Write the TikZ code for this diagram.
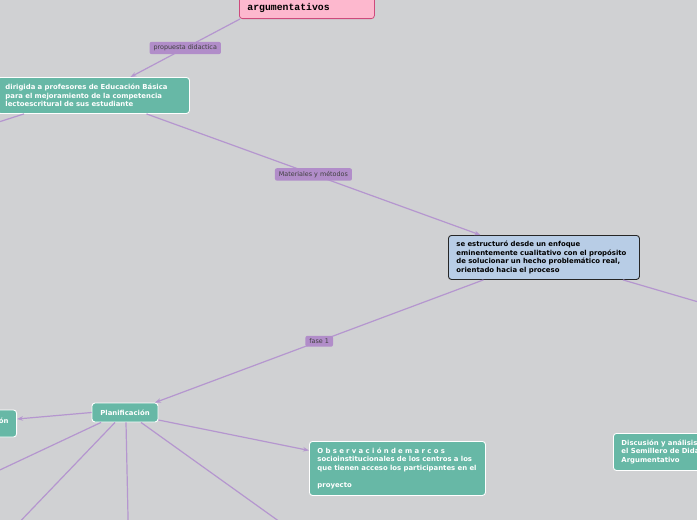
\documentclass[tikz,border=0pt]{standalone}
\usepackage{fontspec}
\setmainfont{DejaVu Sans}
\newfontfamily\codefont{Liberation Mono}
\usetikzlibrary{arrows.meta}
\definecolor{fondo}{HTML}{D0D1D3}
\definecolor{verde}{HTML}{67B8A6}
\definecolor{azul}{HTML}{B8CDE6}
\definecolor{rosa}{HTML}{FDB8CE}
\definecolor{rosaborde}{HTML}{CE4A7C}
\definecolor{lila}{HTML}{B596CF}
\definecolor{lilaetiq}{HTML}{B18DC9}

\begin{document}
\begin{tikzpicture}[x=1pt, y=-1pt, >={Stealth[length=6pt,width=4.5pt]},
  idea/.style={draw=white, line width=0.9pt, fill=verde, rounded corners=3pt,
    text=white, font=\fontsize{6.9}{8.6}\selectfont\bfseries, align=left,
    inner xsep=8pt},
  enlace/.style={draw=lila, line width=1.2pt},
  etiq/.style={fill=lilaetiq, rounded corners=2pt, text=black!75,
    font=\fontsize{6.4}{7}\selectfont, inner xsep=4pt, inner ysep=3pt}]
  \fill[fondo] (0,0) rectangle (697,520);
  \useasboundingbox (0,0) rectangle (697,520);
  \clip (0,0) rectangle (697,520);

  % nodos
  \node[draw=rosaborde, fill=rosa, rounded corners=3pt, line width=0.8pt,
        anchor=south west, text width=119pt, inner xsep=8pt, inner ysep=4pt,
        text height=30pt, text depth=4pt, align=left,
        font=\codefont\fontsize{9.8}{11}\selectfont\bfseries]
        (argu) at (239,19) {argumentativos};
  \node[idea, anchor=north west, text width=176pt, minimum height=36pt]
        (dirig) at (-3,77)
        {dirigida a profesores de Educación Básica\\
         para el mejoramiento de la competencia\\
         lectoescritural de sus estudiante};
  \node[draw=black!85, line width=0.9pt, fill=azul, rounded corners=3pt,
        font=\fontsize{6.9}{8.6}\selectfont\bfseries, align=left,
        anchor=north west, text width=175pt, inner xsep=8pt, minimum height=44pt]
        (enfoque) at (448,235)
        {se estructuró desde un enfoque\\
         eminentemente cualitativo con el propósito\\
         de solucionar un hecho problemático real,\\
         orientado hacia el proceso};
  \node[idea, minimum width=66pt, minimum height=19pt, inner xsep=4pt]
        (plan) at (125,412.5) {Planificación};
  \node[idea, anchor=east, text width=30pt, align=right, minimum height=27pt,
        text depth=6pt] (izq) at (17,423.5) {ón};
  \node[idea, anchor=north west, text width=160pt, minimum height=54pt]
        (obs) at (309,441)
        {O b s e r v a c i ó n d e m a r c o s\\
         socioinstitucionales de los centros a los\\
         que tienen acceso los participantes en el\\[8.6pt]
         proyecto};
  \node[idea, anchor=north west, text width=120pt, minimum height=37pt]
        (disc) at (613,433)
        {Discusión y análisis\\
         el Semillero de Dida\\
         Argumentativo};

  % conectores
  \draw[enlace, ->] ([xshift=1pt]argu.south west) -- ([xshift=37pt]dirig.north)
    node[etiq, midway] (e1) {propuesta didactica};
  \draw[enlace, ->] ([xshift=53pt]dirig.south) -- ([xshift=-63.5pt]enfoque.north)
    node[etiq, midway] (e2) {Materiales y métodos};
  \draw[enlace, ->] ([xshift=-60.5pt]enfoque.south) -- ([xshift=30pt]plan.north)
    node[etiq, midway] (e3) {fase 1};
  \coordinate (fueraA) at (-20,128);
  \coordinate (fueraB) at (760,320);
  \draw[enlace] ([xshift=27pt]dirig.south west) -- (fueraA);
  \draw[enlace] ([xshift=-17pt]enfoque.south east) -- (fueraB);
  \draw[enlace, ->] (plan.west) -- ([yshift=4.5pt]izq.east);
  \draw[enlace, ->] ([yshift=-7.5pt]plan.east) -- ([yshift=18pt]obs.west);
  \foreach \dx/\px/\py in {-24/-30/484, -10/10/532, 1/128.5/540, 16/294/532}{
    \coordinate (fin) at (\px,\py);
    \draw[enlace] ([xshift=\dx pt]plan.south) -- (fin);
  }
\end{tikzpicture}
\end{document}
